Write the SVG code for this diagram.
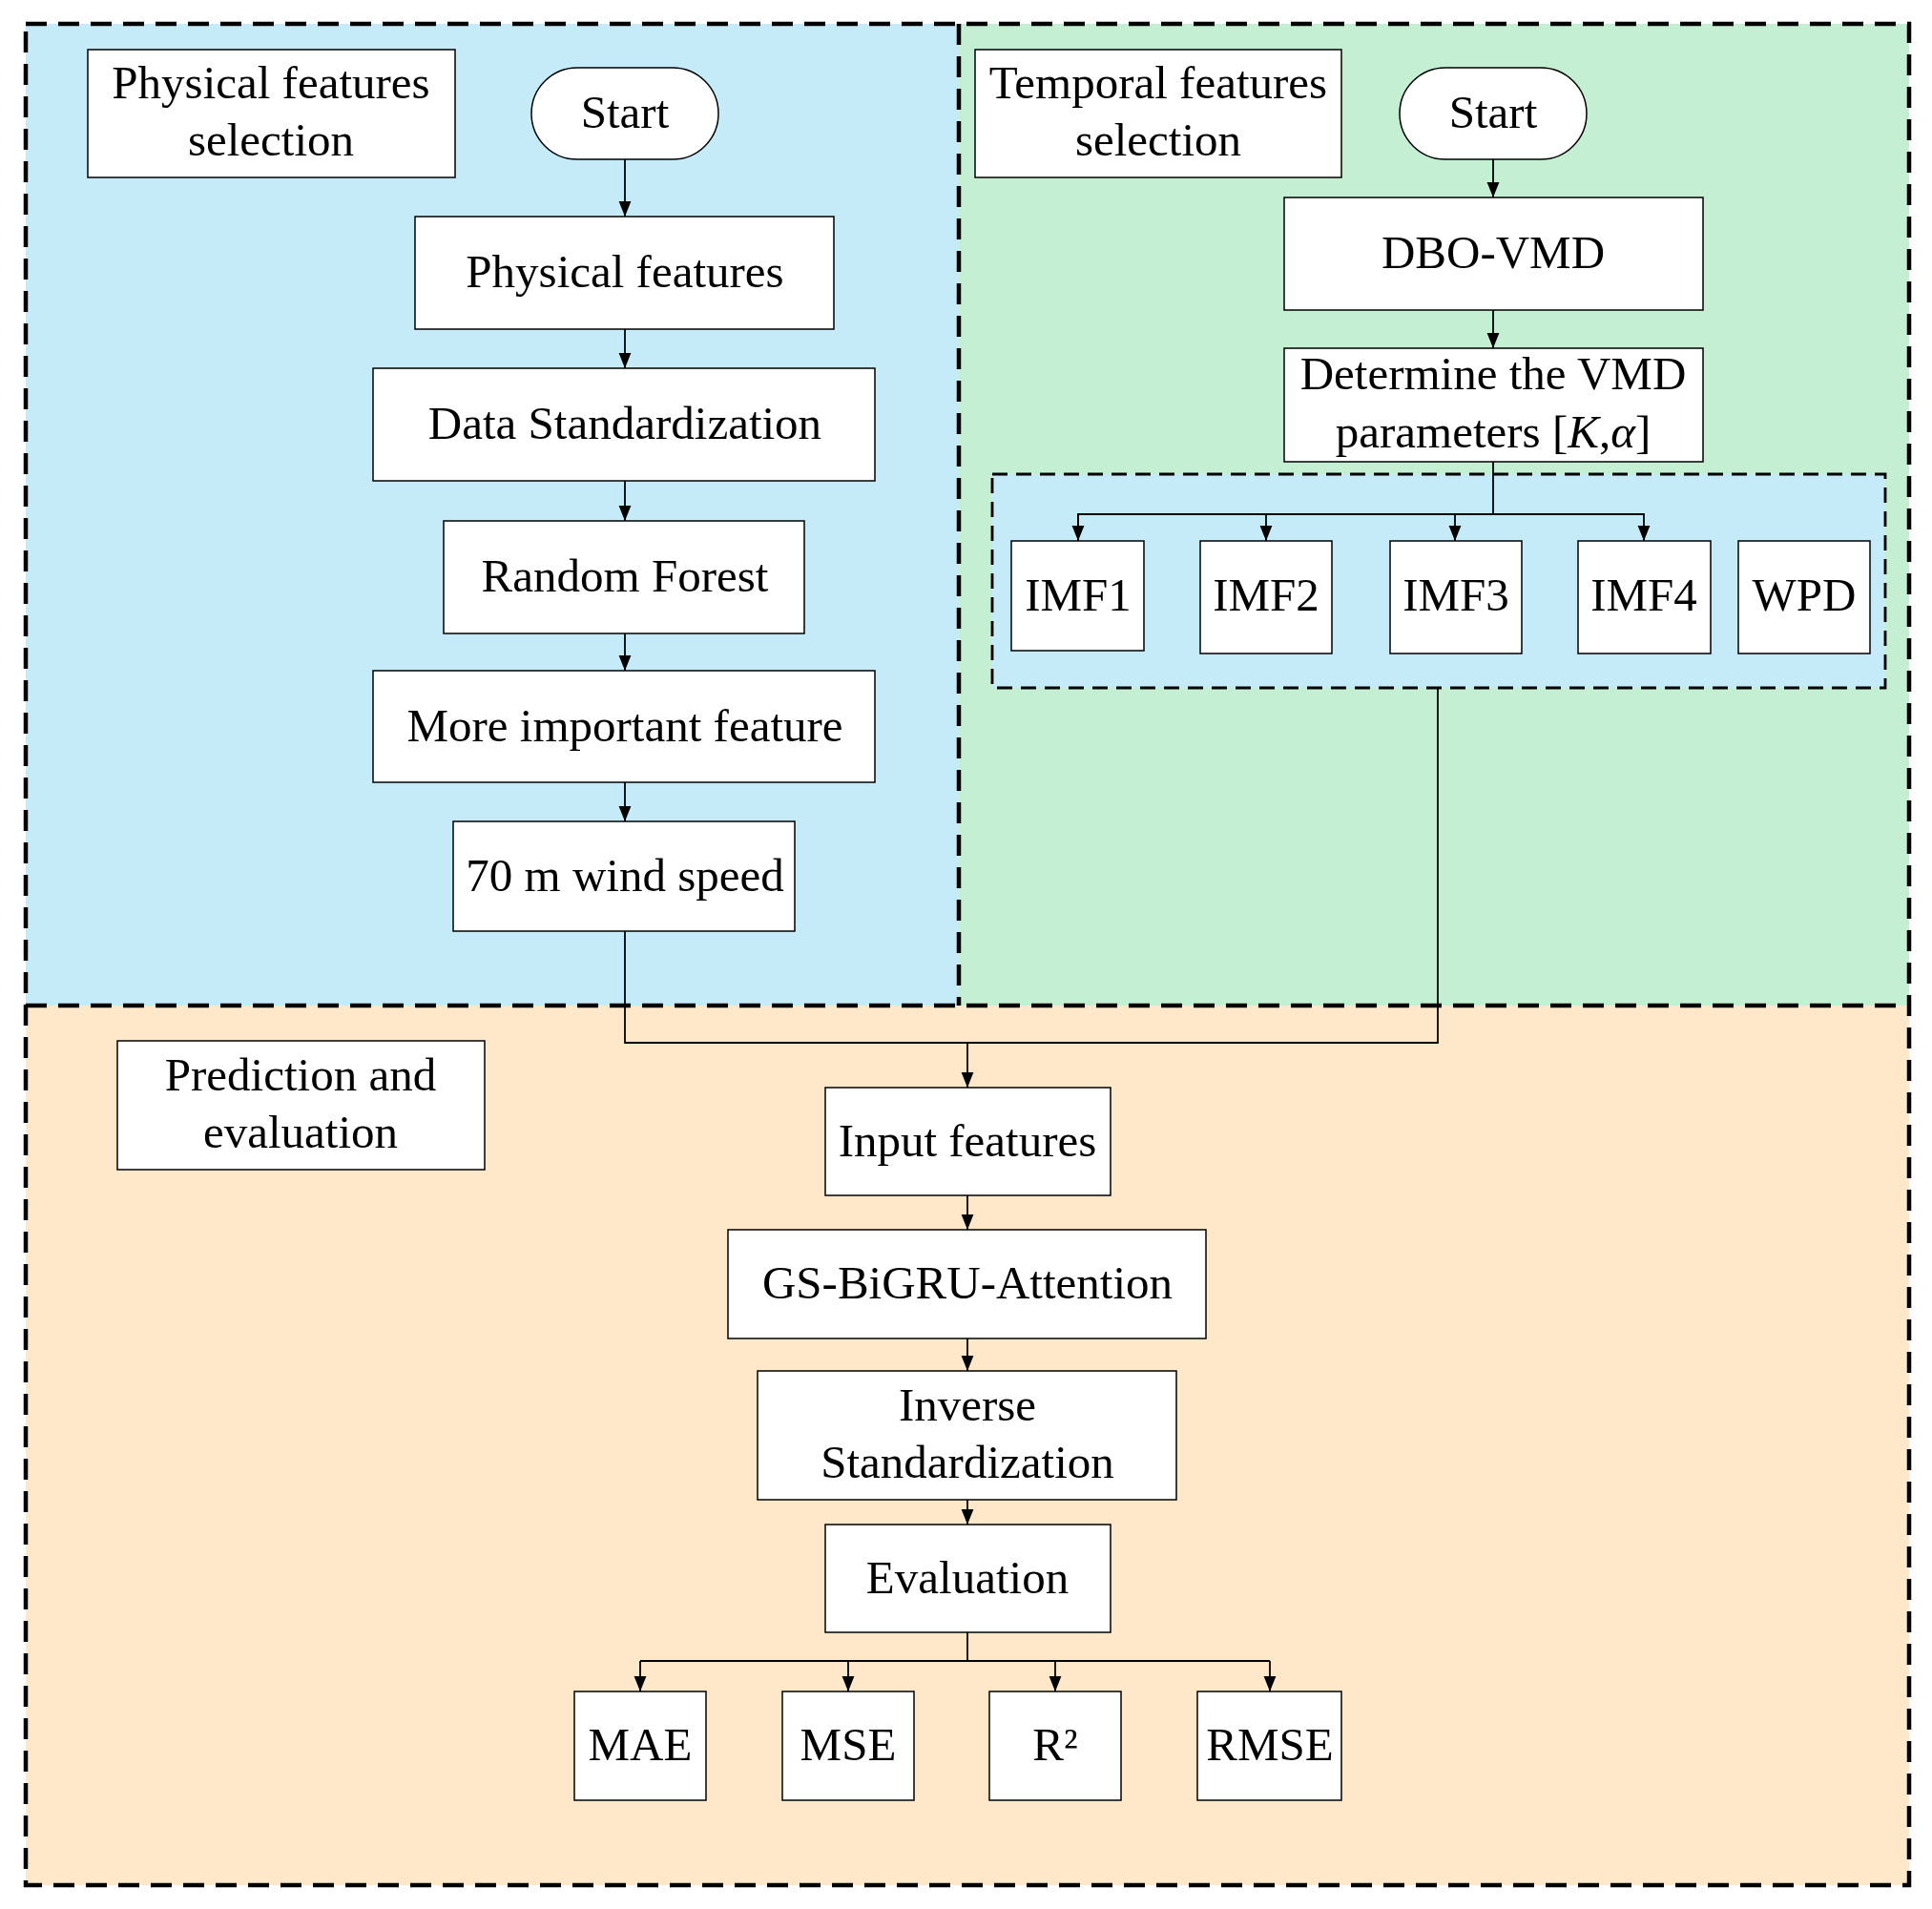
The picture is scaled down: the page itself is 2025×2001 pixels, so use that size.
<svg xmlns="http://www.w3.org/2000/svg" width="2025" height="2001" viewBox="0 0 2025 2001">
<defs>
<marker id="ah" viewBox="0 0 10 10" refX="10" refY="5" markerWidth="16" markerHeight="16" markerUnits="userSpaceOnUse" orient="auto"><path d="M0,1 L10,5 L0,9 z" fill="#000"/></marker>
<style>
.reg{stroke:#000;stroke-width:4.5;stroke-dasharray:22,12}
.inner{fill:#C5EBF8;stroke:#000;stroke-width:2.8;stroke-dasharray:16,9}
.box{fill:#fff;stroke:#000;stroke-width:1.5}
.t{font-family:"Liberation Serif","Times New Roman",serif;font-size:49px;fill:#000;text-anchor:middle}
.c{fill:none;stroke:#000;stroke-width:1.8}
</style>
</defs>
<rect width="2025" height="2001" fill="#fff"/>
<g id="regions">
<rect x="27" y="25" width="978" height="1029" fill="#C5EBF8"/>
<rect x="1005" y="25" width="996" height="1029" fill="#C5EFD3"/>
<rect x="27" y="1054" width="1974" height="922" fill="#FFE8CA"/>
<rect x="27" y="25" width="1974" height="1951" fill="none" class="reg"/>
<line x1="1005" y1="25" x2="1005" y2="1054" class="reg"/>
<line x1="27" y1="1054" x2="2001" y2="1054" class="reg"/>
<rect x="1040" y="497" width="936" height="224" class="inner"/>
</g>
<g id="connectors" class="c">
<line x1="655" y1="167" x2="655" y2="227" marker-end="url(#ah)"/>
<line x1="655" y1="345" x2="655" y2="386" marker-end="url(#ah)"/>
<line x1="655" y1="504" x2="655" y2="546" marker-end="url(#ah)"/>
<line x1="655" y1="664" x2="655" y2="703" marker-end="url(#ah)"/>
<line x1="655" y1="820" x2="655" y2="861" marker-end="url(#ah)"/>
<line x1="1565" y1="167" x2="1565" y2="207" marker-end="url(#ah)"/>
<line x1="1565" y1="325" x2="1565" y2="365" marker-end="url(#ah)"/>
<polyline points="1565,484 1565,539"/>
<polyline points="1130,567 1130,539 1723,539 1723,567" marker-end="url(#ah)"/>
<line x1="1130" y1="539" x2="1130" y2="567" marker-end="url(#ah)"/>
<line x1="1327" y1="539" x2="1327" y2="567" marker-end="url(#ah)"/>
<line x1="1525" y1="539" x2="1525" y2="567" marker-end="url(#ah)"/>
<polyline points="655,976 655,1093 1507,1093 1507,721"/>
<line x1="1014" y1="1093" x2="1014" y2="1140" marker-end="url(#ah)"/>
<line x1="1014" y1="1253" x2="1014" y2="1289" marker-end="url(#ah)"/>
<line x1="1014" y1="1403" x2="1014" y2="1437" marker-end="url(#ah)"/>
<line x1="1014" y1="1572" x2="1014" y2="1598" marker-end="url(#ah)"/>
<polyline points="1014,1711 1014,1741"/>
<polyline points="671,1741 1331,1741"/>
<line x1="671" y1="1741" x2="671" y2="1773" marker-end="url(#ah)"/>
<line x1="889" y1="1741" x2="889" y2="1773" marker-end="url(#ah)"/>
<line x1="1106" y1="1741" x2="1106" y2="1773" marker-end="url(#ah)"/>
<line x1="1331" y1="1741" x2="1331" y2="1773" marker-end="url(#ah)"/>
</g>
<g id="lbl-physical"><rect x="92" y="52" width="385" height="134" class="box"/><text class="t" x="284" y="103">Physical features</text><text class="t" x="284" y="163">selection</text></g>
<g id="start1"><rect x="557" y="71" width="196" height="96" rx="48" class="box"/><text class="t" x="655" y="134">Start</text></g>
<g id="physfeat"><rect x="435" y="227" width="439" height="118" class="box"/><text class="t" x="655" y="301">Physical features</text></g>
<g id="datastd"><rect x="391" y="386" width="526" height="118" class="box"/><text class="t" x="655" y="460">Data Standardization</text></g>
<g id="rf"><rect x="465" y="546" width="378" height="118" class="box"/><text class="t" x="655" y="620">Random Forest</text></g>
<g id="mif"><rect x="391" y="703" width="526" height="117" class="box"/><text class="t" x="655" y="777">More important feature</text></g>
<g id="ws"><rect x="475" y="861" width="358" height="115" class="box"/><text class="t" x="655" y="934">70 m wind speed</text></g>
<g id="lbl-temporal"><rect x="1022" y="52" width="384" height="134" class="box"/><text class="t" x="1214" y="103">Temporal features</text><text class="t" x="1214" y="163">selection</text></g>
<g id="start2"><rect x="1467" y="71" width="196" height="96" rx="48" class="box"/><text class="t" x="1565" y="134">Start</text></g>
<g id="dbo"><rect x="1346" y="207" width="439" height="118" class="box"/><text class="t" x="1565" y="281">DBO-VMD</text></g>
<g id="det"><rect x="1346" y="365" width="439" height="119" class="box"/><text class="t" x="1565" y="408">Determine the VMD</text><text class="t" x="1565" y="469">parameters [<tspan font-style="italic">K</tspan>,<tspan font-style="italic">α</tspan>]</text></g>
<g id="imf1"><rect x="1060" y="567" width="139" height="115" class="box"/><text class="t" x="1130" y="640">IMF1</text></g>
<g id="imf2"><rect x="1258" y="567" width="138" height="118" class="box"/><text class="t" x="1327" y="640">IMF2</text></g>
<g id="imf3"><rect x="1457" y="567" width="138" height="118" class="box"/><text class="t" x="1526" y="640">IMF3</text></g>
<g id="imf4"><rect x="1654" y="567" width="139" height="118" class="box"/><text class="t" x="1723" y="640">IMF4</text></g>
<g id="wpd"><rect x="1822" y="567" width="138" height="118" class="box"/><text class="t" x="1891" y="640">WPD</text></g>
<g id="lbl-pred"><rect x="123" y="1091" width="385" height="135" class="box"/><text class="t" x="315" y="1143">Prediction and</text><text class="t" x="315" y="1203">evaluation</text></g>
<g id="input"><rect x="865" y="1140" width="299" height="113" class="box"/><text class="t" x="1014" y="1212">Input features</text></g>
<g id="gs"><rect x="763" y="1289" width="501" height="114" class="box"/><text class="t" x="1014" y="1361">GS-BiGRU-Attention</text></g>
<g id="inv"><rect x="794" y="1437" width="439" height="135" class="box"/><text class="t" x="1014" y="1489">Inverse</text><text class="t" x="1014" y="1549">Standardization</text></g>
<g id="eval"><rect x="865" y="1598" width="299" height="113" class="box"/><text class="t" x="1014" y="1670">Evaluation</text></g>
<g id="mae"><rect x="602" y="1773" width="138" height="114" class="box"/><text class="t" x="671" y="1845">MAE</text></g>
<g id="mse"><rect x="820" y="1773" width="138" height="114" class="box"/><text class="t" x="889" y="1845">MSE</text></g>
<g id="r2"><rect x="1037" y="1773" width="138" height="114" class="box"/><text class="t" x="1106" y="1845">R²</text></g>
<g id="rmse"><rect x="1255" y="1773" width="151" height="114" class="box"/><text class="t" x="1331" y="1845">RMSE</text></g>
</svg>
